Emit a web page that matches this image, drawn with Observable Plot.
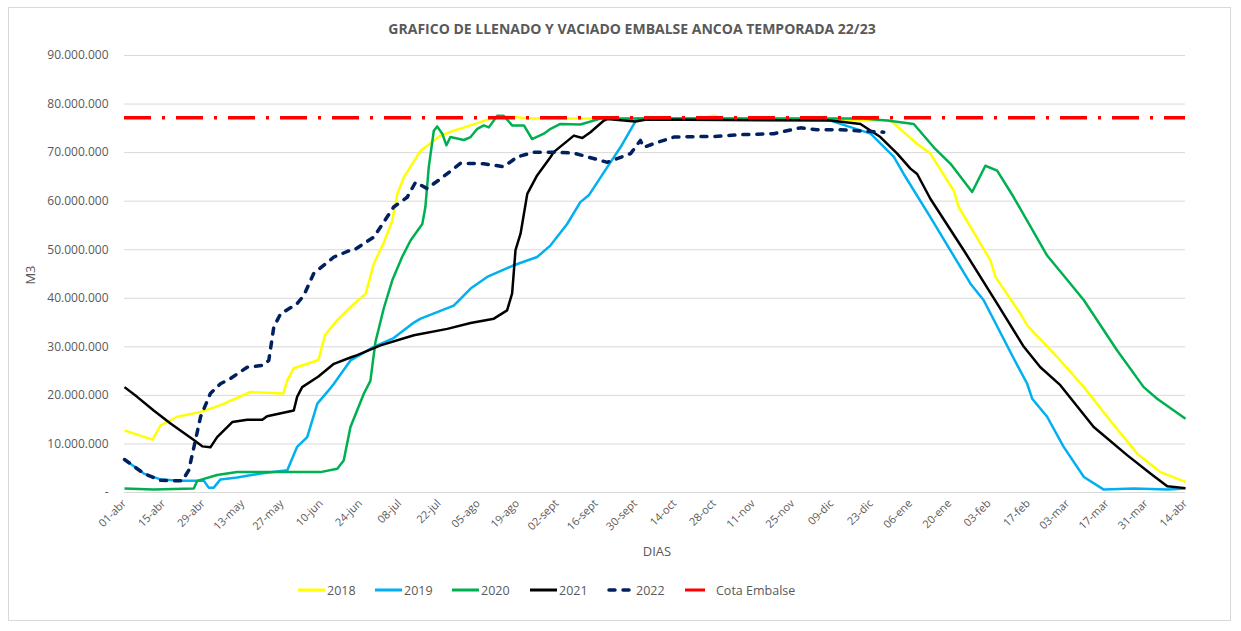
<!DOCTYPE html>
<html>
<head>
<meta charset="utf-8">
<script src="https://cdn.jsdelivr.net/npm/d3@7"></script>
<script src="https://cdn.jsdelivr.net/npm/@observablehq/plot@0.6"></script>
<style>
  body { margin: 0; background: #fff; font-family: "Open Sans", sans-serif; }
  #wrap { position: relative; width: 1241px; height: 631px; overflow: hidden; background: #fff; }
  #frame { position: absolute; left: 8px; top: 7px; width: 1223px; height: 614px; border: 1px solid #d9d9d9; box-sizing: border-box; }
  #title { position: absolute; left: 0; width: 1264px; top: 19px; text-align: center; font-weight: bold; font-size: 14px; color: #595959; white-space: nowrap; }
  #chart { position: absolute; left: 0; top: 40px; }
  #ylab { position: absolute; left: 30px; top: 275px; transform: translate(-50%, -50%) rotate(-90deg); font-size: 13px; color: #595959; }
  #xlab { position: absolute; left: 657px; top: 551px; transform: translate(-50%, -50%); font-size: 13px; color: #595959; }
  .leg { position: absolute; top: 581px; height: 18px; display: flex; align-items: center; font-size: 12.5px; color: #595959; white-space: nowrap; }
  .leg svg { display: block; margin-right: 2px; }
</style>
</head>
<body>
<div id="wrap">
  <div id="frame"></div>
  <div id="title"></div>
  <div id="chart"></div>
  <div id="ylab"></div>
  <div id="xlab"></div>
</div>
<script>
// ---------- DATA ----------
const titleText = "GRAFICO DE LLENADO Y VACIADO EMBALSE ANCOA TEMPORADA 22/23";
const yAxisTitle = "M3";
const xAxisTitle = "DIAS";

// x ticks: day index since 01-abr and their labels
const tickDays = [0,14,28,42,56,70,84,98,112,126,140,154,168,182,196,210,224,238,252,266,280,294,308,322,336,350,364,378];
const tickLabels = ["01-abr","15-abr","29-abr","13-may","27-may","10-jun","24-jun","08-jul","22-jul","05-ago","19-ago","02-sept","16-sept","30-sept","14-oct","28-oct","11-nov","25-nov","09-dic","23-dic","06-ene","20-ene","03-feb","17-feb","03-mar","17-mar","31-mar","14-abr"];
const yTicks = [0,10e6,20e6,30e6,40e6,50e6,60e6,70e6,80e6,90e6];

const seriesNames = ["2018","2019","2020","2021","2022","Cota Embalse"];
const seriesColors = ["#FFFF00","#00B0F0","#00B050","#000000","#002060","#FF0000"];

// [day, millions of m3]
const s2018 = [[0,12.8],[10,10.9],[12.8,13.8],[18.8,15.6],[27.1,16.6],[34.2,18.0],[44.9,20.7],[56.6,20.4],[58,23.1],[60.3,25.6],[69.1,27.3],[71.5,32.5],[75.8,35.5],[80.5,38.2],[85.9,40.9],[88.8,47.1],[92.4,51.5],[95.4,56],[97.2,61.5],[99.5,64.9],[105.5,70.4],[112.6,73.5],[117.3,74.5],[123.3,75.6],[130.4,77.0],[136.3,77.5],[144.6,77.0],[205,77.0],[210,77.6],[214,77.0],[272.9,76.6],[282.4,71.8],[287.1,69.8],[295.4,62.2],[297.2,58.8],[308.5,47.8],[310.3,44.4],[319.2,36.8],[321.6,34.4],[332.3,27.9],[341.8,21.7],[350.1,15.6],[360.8,8.0],[369.1,4.2],[378,2.2]];
const s2019 = [[0,6.8],[6.9,3.9],[12.8,2.7],[20,2.4],[28.3,2.4],[30,1.0],[31.8,1.0],[34.2,2.7],[40.1,3.1],[48.5,3.9],[58,4.6],[61.5,9.4],[65.1,11.4],[68.7,18.3],[73.4,21.5],[74.6,22.4],[80.5,27.2],[88.8,30.0],[95.9,31.8],[103.1,35.0],[105.5,35.8],[117.3,38.5],[123.3,42],[129.2,44.4],[138.7,46.8],[147,48.5],[151.8,50.9],[157.7,55.3],[162.4,59.8],[165.4,61.2],[172,67],[176.7,71.1],[182.6,77.0],[248,76.9],[251.5,76.6],[265.8,73.9],[274.1,69.1],[277.6,65.6],[287.1,56.7],[301.4,43],[306.1,39.6],[316.8,27.6],[321.6,22.4],[323.4,19.3],[328.7,15.6],[334.6,9.4],[341.8,3.2],[348.9,0.6],[359.6,0.8],[371.5,0.6],[378,0.8]];
const s2020 = [[0,0.8],[10.4,0.6],[24.7,0.8],[25.9,2.4],[33,3.6],[40.1,4.2],[69.8,4.2],[75.8,4.9],[78.1,6.6],[80.5,13.5],[85.3,20.4],[87.6,23],[89.4,31],[92.4,38],[95.4,43.7],[98.9,48.5],[101.9,51.9],[106.1,55.3],[107.2,58.8],[108.4,67],[110.2,74.5],[111.4,75.4],[113.2,73.9],[114.7,71.5],[116.1,73.2],[120.9,72.6],[123.3,73.2],[125.7,74.9],[128,75.6],[129.8,75.2],[132.8,77.6],[135.1,77.6],[138.1,75.6],[142.3,75.6],[145.2,72.8],[149.4,73.9],[151.8,74.9],[155.3,75.9],[162.4,75.8],[169.6,77.0],[263,77.0],[271.7,76.6],[281.2,75.9],[288.3,71.1],[294.3,67.7],[302,61.9],[306.7,67.3],[310.9,66.3],[316.8,60.8],[328.7,48.8],[337,43],[341.8,39.6],[353.6,29.3],[363.1,21.7],[367.9,19.3],[378,15.2]];
const s2021 = [[0,21.7],[4.5,19.7],[10.4,16.9],[16.4,14.2],[24.7,10.8],[27.7,9.5],[30.6,9.3],[33,11.4],[38.4,14.5],[43.7,15],[49.1,15],[50.8,15.7],[60.3,16.9],[61.5,19.7],[63.3,21.7],[69.1,23.9],[74.6,26.5],[80.5,27.8],[82.9,28.3],[91.2,30.3],[103.1,32.4],[115,33.7],[123.3,34.9],[131.6,35.8],[136.3,37.5],[138.1,41],[139.3,49.9],[141.1,53.3],[143.5,61.5],[147,65.3],[151.8,69.1],[152.9,70.1],[160.1,73.5],[163.1,73.0],[166,74.2],[170.8,76.6],[172,76.9],[182,76.4],[186,76.8],[251.5,76.6],[262.2,75.9],[269.3,73.2],[275.3,69.8],[280,66.7],[282.4,65.6],[287.1,60.5],[299,49.9],[310.9,38.9],[320.4,30],[326.3,25.8],[333.4,22.1],[345.3,13.5],[357.2,7.7],[365.5,3.9],[371.5,1.3],[378,0.9]];
const s2022 = [[0,6.8],[6.9,3.9],[12.8,2.5],[20.6,2.4],[22.9,4.6],[25.3,10.8],[27.1,15.6],[30.6,20.4],[34.2,22.4],[37.8,23.5],[43.7,25.8],[49.6,26.2],[51.4,27.2],[53.2,34.1],[55.6,36.8],[61.5,38.9],[63.9,40.6],[67.4,45.1],[74.6,48.5],[80.5,49.9],[81.7,49.9],[88.8,52.6],[92.4,55.7],[95.9,58.8],[100.7,60.8],[103.7,63.9],[107.8,62.6],[112.6,64.6],[119.7,67.8],[128,67.7],[135.1,67.1],[139.9,69.1],[145.8,70.1],[151.8,70.1],[160.1,69.9],[172,68.0],[180.3,69.8],[183.8,72.5],[185,71.1],[189.8,72.1],[195.7,73.2],[205.2,73.3],[209.9,73.3],[219.5,73.7],[231.3,73.9],[240.8,75.1],[246.8,74.7],[255.1,74.7],[270.5,74.2]];
const cotaEmbalse = 77.2; // millions m3

// ---------- BUILD ----------
const seriesData = [s2018, s2019, s2020, s2021, s2022];
const toRows = (arr) => arr.map(([d, v]) => ({day: d, value: v * 1e6}));
const fmtNum = (d) => d === 0 ? "-" : String(Math.round(d)).replace(/\B(?=(\d{3})+(?!\d))/g, ".");
const labelByDay = new Map(tickDays.map((d, i) => [d, tickLabels[i]]));

document.getElementById("title").textContent = titleText;
document.getElementById("ylab").textContent = yAxisTitle;
document.getElementById("xlab").textContent = xAxisTitle;

const lineMarks = seriesData.map((arr, i) => {
  const dashed = seriesNames[i] === "2022";
  return Plot.line(toRows(arr), {
    x: "day", y: "value",
    stroke: seriesColors[i],
    strokeWidth: dashed ? 3.5 : 2.5,
    strokeDasharray: dashed ? "6,8" : null,
    strokeLinecap: dashed ? "round" : "butt",
    strokeLinejoin: "round"
  });
});

const chart = Plot.plot({
  width: 1241,
  height: 525,
  marginLeft: 124,
  marginRight: 56,
  marginTop: 15,
  marginBottom: 73,
  style: {fontFamily: "'Open Sans', sans-serif", fontSize: "11px", color: "#595959", background: "transparent", overflow: "visible"},
  x: {domain: [0, 378], ticks: tickDays, tickFormat: d => labelByDay.get(d), tickRotate: -45, tickSize: 0, tickPadding: 9, label: null},
  y: {domain: [0, 90e6], ticks: yTicks, tickFormat: fmtNum, tickSize: 0, tickPadding: 16, label: null},
  marks: [
    Plot.ruleY(yTicks, {stroke: "#d9d9d9", strokeWidth: 1}),
    ...lineMarks,
    Plot.ruleY([cotaEmbalse * 1e6], {stroke: seriesColors[5], strokeWidth: 3.5, strokeDasharray: "27,11,3,11"})
  ]
});
document.getElementById("chart").appendChild(chart);
d3.select(chart).selectAll('[aria-label^="y-axis"] text').attr("font-size", 12);

// ---------- LEGEND ----------
const legendX = [298, 375, 452, 530, 607, 685];
const wrap = document.getElementById("wrap");
seriesNames.forEach((name, i) => {
  const item = document.createElement("div");
  item.className = "leg";
  item.style.left = legendX[i] + "px";
  const isCota = name === "Cota Embalse";
  const w = isCota ? 20 : 27;
  let sw;
  if (name === "2022") {
    sw = `<svg width="${w}" height="10"><line x1="2" y1="5" x2="${w-2}" y2="5" stroke="${seriesColors[i]}" stroke-width="3.5" stroke-linecap="round" stroke-dasharray="6,8"/></svg>`;
  } else {
    sw = `<svg width="${w}" height="10"><line x1="0" y1="5" x2="${w}" y2="5" stroke="${seriesColors[i]}" stroke-width="3"/></svg>`;
  }
  item.innerHTML = sw + `<span style="margin-left:${isCota ? 9 : 0}px">${name}</span>`;
  wrap.appendChild(item);
});
</script>
</body>
</html>
